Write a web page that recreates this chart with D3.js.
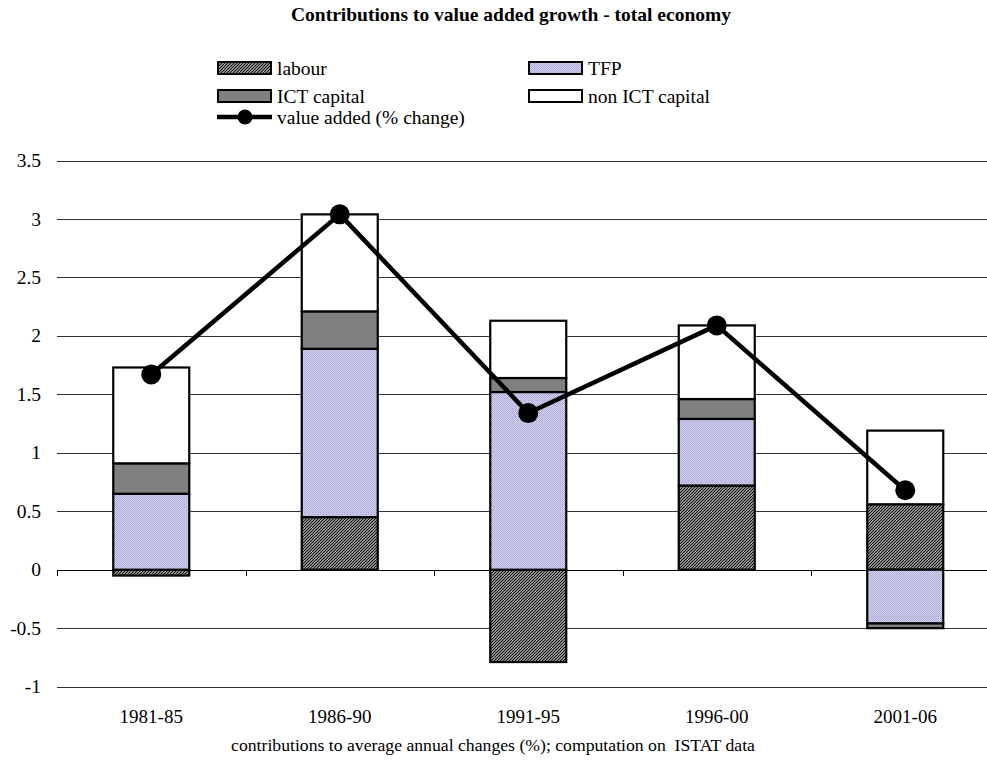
<!DOCTYPE html>
<html>
<head>
<meta charset="utf-8">
<script src="https://cdn.jsdelivr.net/npm/d3@7"></script>
<style>
  html, body { margin: 0; padding: 0; background: #fff; }
  svg { display: block; }
  svg text { font-family: "Liberation Serif", "Times New Roman", serif; white-space: pre; }
</style>
</head>
<body>
<svg id="chart" width="987" height="762"></svg>
<script>
// Periods and contributions (percentage points of average annual growth)
const periods = ["1981-85", "1986-90", "1991-95", "1996-00", "2001-06"];
const labour = [-0.05, 0.45, -0.79, 0.72, 0.56];
const tfp = [0.65, 1.44, 1.52, 0.57, -0.46];
const ictCapital = [0.26, 0.32, 0.12, 0.17, -0.04];
const nonIctCapital = [0.82, 0.83, 0.49, 0.63, 0.63];
const valueAdded = [1.67, 3.04, 1.34, 2.09, 0.68];
const yTicks = [-1, -0.5, 0, 0.5, 1, 1.5, 2, 2.5, 3, 3.5];

const seriesNames = ["labour", "TFP", "ICT capital", "non ICT capital"];
const seriesValues = [labour, tfp, ictCapital, nonIctCapital];

const FONT = "'Liberation Serif', 'Times New Roman', serif";
const svg = d3.select("#chart");
const defs = svg.append("defs");

// fine diagonal hatch for labour
const hatch = defs.append("pattern").attr("id", "hatch")
  .attr("patternUnits", "userSpaceOnUse").attr("width", 3).attr("height", 3);
hatch.append("rect").attr("width", 3).attr("height", 3).attr("fill", "#ffffff");
hatch.append("path").attr("d", "M-1,1 L1,-1 M0,3 L3,0 M2,4 L4,2")
  .attr("stroke", "#111").attr("stroke-width", 1.4);

// light stippled lavender for TFP
const stip = defs.append("pattern").attr("id", "stipple")
  .attr("patternUnits", "userSpaceOnUse").attr("width", 2).attr("height", 2);
stip.append("rect").attr("width", 2).attr("height", 2).attr("fill", "#d0d0ee");
stip.append("rect").attr("width", 1).attr("height", 1).attr("fill", "#a9a9d6");
stip.append("rect").attr("x", 1).attr("y", 1).attr("width", 1).attr("height", 1).attr("fill", "#b8b8de");

const fills = ["url(#hatch)", "url(#stipple)", "#808080", "#ffffff"];

const plotLeft = 57, plotRight = 999.5;
const x = d3.scaleBand().domain(periods).range([plotLeft, plotRight]).paddingInner(0).paddingOuter(0);
const y = d3.scaleLinear().domain([-1, 3.5]).range([686.6, 160.6]);
const barWidth = 76;

// title
svg.append("text").attr("x", 511).attr("y", 21).attr("text-anchor", "middle")
  .style("font-family", FONT)
  .attr("font-size", 19.5).attr("font-weight", "bold").text("Contributions to value added growth - total economy");

// horizontal gridlines + y tick labels
const grid = svg.append("g");
grid.selectAll("line").data(yTicks).join("line")
  .attr("x1", plotLeft).attr("x2", 987)
  .attr("y1", d => Math.round(y(d)) + 0.5).attr("y2", d => Math.round(y(d)) + 0.5)
  .attr("stroke", d => d === 0 ? "#000" : "#333").attr("stroke-width", 1);
grid.selectAll("text").data(yTicks).join("text")
  .attr("x", 41).attr("y", d => y(d) + 6.5).attr("text-anchor", "end")
  .style("font-family", FONT).attr("font-size", 19.5).text(d => d);

// category separators on the zero line
const seps = d3.range(periods.length).map(i => plotLeft + i * x.bandwidth());
svg.append("g").selectAll("line").data(seps).join("line")
  .attr("x1", d => Math.round(d) + 0.5).attr("x2", d => Math.round(d) + 0.5)
  .attr("y1", Math.round(y(0))).attr("y2", Math.round(y(0)) + 6)
  .attr("stroke", "#000").attr("stroke-width", 1);

// stacked bars: positives stack up from 0, negatives stack down from 0
const segs = [];
periods.forEach((p, i) => {
  let pos = 0, neg = 0;
  seriesValues.forEach((vals, s) => {
    const v = vals[i];
    if (v >= 0) { segs.push({ p, s, y0: pos, y1: pos + v }); pos += v; }
    else { segs.push({ p, s, y0: neg, y1: neg + v }); neg += v; }
  });
});
svg.append("g").selectAll("rect").data(segs).join("rect")
  .attr("x", d => x(d.p) + x.bandwidth() / 2 - barWidth / 2)
  .attr("width", barWidth)
  .attr("y", d => y(Math.max(d.y0, d.y1)))
  .attr("height", d => Math.abs(y(d.y0) - y(d.y1)))
  .attr("fill", d => fills[d.s])
  .attr("stroke", "#000").attr("stroke-width", 2.2);

// value added line
const cx = p => x(p) + x.bandwidth() / 2;
const line = d3.line().x((d, i) => cx(periods[i])).y(d => y(d));
svg.append("path").datum(valueAdded).attr("d", line)
  .attr("fill", "none").attr("stroke", "#000").attr("stroke-width", 4.5).attr("stroke-linejoin", "round");
svg.append("g").selectAll("circle").data(valueAdded).join("circle")
  .attr("cx", (d, i) => cx(periods[i])).attr("cy", d => y(d)).attr("r", 10).attr("fill", "#000");

// category labels
svg.append("g").selectAll("text").data(periods).join("text")
  .attr("x", d => cx(d)).attr("y", 723).attr("text-anchor", "middle")
  .style("font-family", FONT).attr("font-size", 19).text(d => d);

// caption
svg.append("text").attr("x", 493).attr("y", 751).attr("text-anchor", "middle")
  .style("font-family", FONT).attr("font-size", 17.7)
  .text("contributions to average annual changes (%); computation on  ISTAT data");

// legend
const legendPos = [
  { x: 218, y: 62 }, { x: 529, y: 62 },
  { x: 218, y: 90 }, { x: 529, y: 90 }
];
const lg = svg.append("g");
seriesNames.forEach((name, s) => {
  const pos = legendPos[s];
  lg.append("rect").attr("x", pos.x).attr("y", pos.y).attr("width", 53).attr("height", 12)
    .attr("fill", fills[s]).attr("stroke", "#000").attr("stroke-width", 2);
  lg.append("text").attr("x", pos.x + 59).attr("y", pos.y + 13)
    .style("font-family", FONT).attr("font-size", 19.5).text(name);
});
lg.append("line").attr("x1", 217).attr("x2", 272).attr("y1", 117).attr("y2", 117)
  .attr("stroke", "#000").attr("stroke-width", 4.5);
lg.append("circle").attr("cx", 245).attr("cy", 117).attr("r", 7.5).attr("fill", "#000");
lg.append("text").attr("x", 277).attr("y", 124)
  .style("font-family", FONT).attr("font-size", 19.5).text("value added (% change)");
</script>
</body>
</html>
